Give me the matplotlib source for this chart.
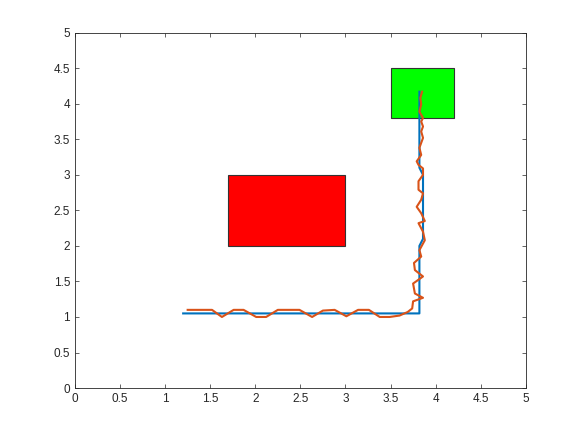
import matplotlib
matplotlib.use("Agg")
import matplotlib.pyplot as plt
from matplotlib.patches import Rectangle

# obstacle and goal rectangles: (x, y, width, height)
obstacle = (1.7, 2.0, 1.3, 1.0)
goal = (3.5, 3.8, 0.7, 0.7)

# planned path (blue)
plan_x = [1.2, 3.82, 3.82, 3.86, 3.86, 3.82, 3.82]
plan_y = [1.05, 1.05, 2.0, 2.1, 3.0, 3.1, 4.17]

# followed path (red)
track_x = [1.25, 1.52, 1.63, 1.76, 1.87, 2.01, 2.12, 2.25, 2.49, 2.63, 2.75, 2.88,
           3.01, 3.14, 3.26, 3.38, 3.49, 3.60, 3.69, 3.74, 3.75, 3.86, 3.77, 3.75,
           3.86, 3.77, 3.76, 3.84, 3.82, 3.88, 3.86, 3.81, 3.88, 3.84, 3.79, 3.84,
           3.86, 3.81, 3.81, 3.86, 3.86, 3.81, 3.79, 3.84, 3.82, 3.86, 3.84, 3.86,
           3.84, 3.86, 3.82, 3.84, 3.83, 3.85]
track_y = [1.10, 1.10, 1.00, 1.10, 1.10, 1.00, 1.00, 1.10, 1.10, 1.00, 1.09, 1.10,
           1.01, 1.10, 1.10, 1.00, 1.00, 1.02, 1.07, 1.12, 1.22, 1.27, 1.33, 1.47,
           1.57, 1.66, 1.76, 1.85, 1.94, 2.08, 2.20, 2.32, 2.35, 2.46, 2.55, 2.65,
           2.74, 2.79, 2.91, 3.00, 3.09, 3.14, 3.19, 3.28, 3.38, 3.52, 3.61, 3.68,
           3.75, 3.80, 3.89, 3.99, 4.08, 4.17]

plt.rcParams['font.family'] = ['Liberation Sans', 'DejaVu Sans']

fig = plt.figure(figsize=(5.81, 4.36), dpi=100)
ax = fig.add_axes([0.129, 0.110, 0.776, 0.815])

ax.add_patch(Rectangle(obstacle[:2], obstacle[2], obstacle[3],
                       facecolor=(1, 0, 0), edgecolor='#333333', linewidth=0.8))
ax.add_patch(Rectangle(goal[:2], goal[2], goal[3],
                       facecolor=(0, 1, 0), edgecolor='#333333', linewidth=0.8))

ax.plot(plan_x, plan_y, color='#0072BD', linewidth=1.5)
ax.plot(track_x, track_y, color='#D95319', linewidth=1.5)

ax.set_xlim(0, 5)
ax.set_ylim(0, 5)
ticks = [0, 0.5, 1, 1.5, 2, 2.5, 3, 3.5, 4, 4.5, 5]
ax.set_xticks(ticks)
ax.set_yticks(ticks)
ax.set_xticklabels(['0', '0.5', '1', '1.5', '2', '2.5', '3', '3.5', '4', '4.5', '5'])
ax.set_yticklabels(['0', '0.5', '1', '1.5', '2', '2.5', '3', '3.5', '4', '4.5', '5'])
ax.tick_params(direction='in', top=True, right=True, length=3, width=0.5,
               labelsize=8.5, colors='#262626')
for s in ax.spines.values():
    s.set_linewidth(0.6)
    s.set_color('#262626')

fig.savefig('out.png', dpi=100)
